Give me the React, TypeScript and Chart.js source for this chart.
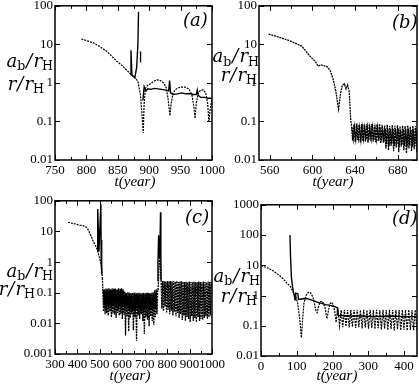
import React, { useEffect, useRef } from 'react';
import { Chart, registerables } from 'chart.js';
Chart.register(...registerables);
Chart.defaults.font.family = '"Liberation Serif", serif';
Chart.defaults.font.size = 13;

// ---------- Panel (a) ----------
const aXTicks = [750, 800, 850, 900, 950, 1000];
const aXMinor = [775, 825, 875, 925, 975];
const aYTicks = [0.01, 0.1, 1, 10, 100];
const aDotT = [792, 800, 811, 820, 832, 840, 848, 855, 860, 866, 872, 877, 882, 886, 889, 890.5, 892, 894, 897, 902, 908, 913, 918, 923, 927, 930, 933, 935, 938, 943, 950, 957, 963, 968, 971, 973, 975, 978, 982, 986, 990, 993, 995, 997, 1000];
const aDotV = [13.8, 12.5, 11, 9, 6.7, 5, 3.7, 3.0, 2.5, 2.0, 1.6, 1.4, 1.1, 0.5, 0.12, 0.05, 0.3, 0.72, 0.85, 0.95, 1.12, 1.2, 1.15, 1.0, 0.75, 0.4, 0.14, 0.3, 0.55, 0.7, 0.78, 0.78, 0.7, 0.5, 0.25, 0.12, 0.3, 0.55, 0.65, 0.66, 0.55, 0.3, 0.1, 0.2, 0.4];
const aSolT = [870, 871, 872.5, 877, 880, 882, 883, 883.5, 886, 886.2, 886.5, 890, 892, 895, 898, 903, 908, 914, 920, 926, 931, 932.5, 934, 938, 945, 952, 958, 964, 970, 975, 976.5, 978, 982, 988, 994, 1000];
const aSolV = [1.65, 7, 1.6, 1.35, 2.5, 10, 70, null, 3.5, 6.5, null, 0.35, 0.8, 0.62, 0.7, 0.68, 0.72, 0.7, 0.68, 0.65, 0.62, 1.15, 0.55, 0.5, 0.52, 0.55, 0.52, 0.53, 0.5, 0.5, 0.65, 0.48, 0.42, 0.42, 0.4, 0.4];

// ---------- Panel (b) ----------
const bXTicks = [560, 600, 640, 680];
const bXMinor = [580, 620, 660];
const bYTicks = [0.01, 0.1, 1, 10, 100];
const bDotT = [559, 570, 580, 590, 597, 603, 605.5, 607.5, 610, 614, 617, 620, 622, 624.5, 626.5, 628, 630, 631.5, 633, 634.5, 636];
const bDotV = [18.5, 15, 12, 9, 5.2, 3.5, 2.7, 2.95, 2.85, 2.6, 2.0, 1.1, 0.6, 0.21, 0.55, 0.85, 0.95, 0.7, 0.88, 0.6, 0.1];
const bBandStart = 636.5;
const bBandStep = 1.2;
const bBandV = [0.09, 0.032, 0.085, 0.03, 0.088, 0.033, 0.082, 0.029, 0.086, 0.031, 0.084, 0.03, 0.087, 0.028, 0.083, 0.032, 0.085, 0.03, 0.08, 0.029, 0.084, 0.031, 0.086, 0.027, 0.082, 0.028,
  0.078, 0.02, 0.082, 0.018, 0.076, 0.023, 0.08, 0.017, 0.077, 0.021, 0.079, 0.016, 0.075, 0.022, 0.078, 0.018, 0.076, 0.015, 0.079, 0.02, 0.074, 0.017, 0.077, 0.019, 0.075, 0.016];
const bSolBandStart = 637.1;
const bSolBandStep = 1.2;
const bSolBandV = [0.07, 0.035, 0.072, 0.034, 0.068, 0.036, 0.07, 0.033, 0.071, 0.035, 0.069, 0.034, 0.07, 0.032, 0.068, 0.035, 0.07, 0.033, 0.067, 0.034, 0.069, 0.032, 0.07, 0.031, 0.066, 0.03,
  0.064, 0.026, 0.066, 0.024, 0.063, 0.027, 0.065, 0.023, 0.064, 0.025, 0.066, 0.022, 0.062, 0.025, 0.064, 0.023, 0.063, 0.021, 0.065, 0.024, 0.062, 0.022, 0.063, 0.023, 0.062, 0.021];

// ---------- Panel (c) ----------
const cXTicks = [300, 400, 500, 600, 700, 800, 900, 1000];
const cXMinor = [350, 450, 550, 650, 750, 850, 950];
const cYTicks = [0.001, 0.01, 0.1, 1, 10, 100];
const cDotT = [358, 375, 392, 408, 425, 438, 446, 453, 461, 468, 476, 483, 490, 497, 505, 509, 511];
const cDotV = [20, 18.5, 17.5, 16, 15.5, 14, 12, 9.5, 7, 5.3, 4, 3.2, 2.3, 1.5, 0.9, 0.6, 0.3];
const cBand1Start = 513;
const cBand1Step = 3.5;
const cBand1V = [0.14, 0.025, 0.13, 0.02, 0.14, 0.022, 0.135, 0.018, 0.14, 0.024, 0.13, 0.016, 0.14, 0.021, 0.135, 0.019, 0.14, 0.015, 0.13, 0.022, 0.14, 0.018, 0.135, 0.02, 0.14, 0.014, 0.13, 0.019, 0.11, 0.004,
  0.1, 0.017, 0.105, 0.0055, 0.1, 0.015, 0.098, 0.02, 0.1, 0.006, 0.102, 0.016, 0.1, 0.0027, 0.098, 0.018, 0.1, 0.014, 0.1, 0.02, 0.097, 0.012, 0.1, 0.0045, 0.098, 0.016, 0.1, 0.013, 0.1, 0.008,
  0.098, 0.017, 0.1, 0.012, 0.105, 0.009, 0.12, 0.016, 0.13, 0.02, 0.13];
const cSolBandStart = 514.75;
const cSolBandStep = 3.5;
const cSolBandV = [0.12, 0.035, 0.125, 0.03, 0.12, 0.04, 0.13, 0.032, 0.12, 0.036, 0.125, 0.03, 0.12, 0.038, 0.13, 0.033, 0.12, 0.035, 0.125, 0.03, 0.12, 0.037, 0.13, 0.032, 0.12, 0.034, 0.11, 0.03, 0.095, 0.028,
  0.09, 0.03, 0.092, 0.026, 0.09, 0.03, 0.088, 0.027, 0.09, 0.029, 0.092, 0.025, 0.09, 0.028, 0.088, 0.03, 0.09, 0.026, 0.09, 0.029, 0.088, 0.025, 0.09, 0.027, 0.088, 0.03, 0.09, 0.026, 0.09, 0.028,
  0.09, 0.03, 0.092, 0.027, 0.095, 0.03, 0.11, 0.032, 0.12];
const cMidT = [760, 763, 766, 768, 770, 772];
const cMidV = [0.13, 0.5, 1.5, 2, 1.0, 0.3];
const cBand2Start = 773;
const cBand2Step = 3.5;
const cBand2V = [0.25, 0.03, 0.24, 0.025, 0.24, 0.035, 0.23, 0.022, 0.24, 0.028, 0.235, 0.02, 0.24, 0.026, 0.23, 0.018, 0.235, 0.024, 0.23, 0.017, 0.24, 0.022, 0.225, 0.015, 0.23, 0.02, 0.235, 0.013, 0.23, 0.018,
  0.225, 0.012, 0.23, 0.016, 0.22, 0.014, 0.23, 0.011, 0.225, 0.017, 0.22, 0.012, 0.23, 0.015, 0.225, 0.011, 0.22, 0.016, 0.23, 0.012, 0.225, 0.014, 0.22, 0.013, 0.23, 0.015, 0.225, 0.017, 0.22, 0.014,
  0.23, 0.016, 0.225, 0.018, 0.23];
const cSol1T = [488, 490.5, 496, 504.5, 506, 507.5, 509];
const cSol1V = [2.2, 54, 2.2, 78, 1.0, 5.3, 0.4];
const cSol2T = [756, 759, 762, 764, 768, 770.5, 772, 773];
const cSol2V = [0.25, 1.0, 7.5, 1.5, 3, 42, 1.5, 0.25];

// ---------- Panel (d) ----------
const dXTicks = [0, 100, 200, 300, 400];
const dXMinor = [50, 150, 250, 350];
const dYTicks = [0.01, 0.1, 1, 10, 100, 1000];
const dDotT = [0, 15, 30, 45, 60, 72, 82, 90, 96, 102, 107, 110, 113, 116, 120, 126, 132, 138, 145, 150, 154, 157, 160, 165, 170, 175, 180, 184, 187, 192, 197, 202, 206, 210, 213];
const dDotV = [9.5, 8.5, 7, 5.3, 3.8, 2.6, 2.0, 1.3, 1.0, 0.6, 0.22, 0.1, 0.04, 0.15, 0.55, 1.0, 1.28, 1.25, 0.9, 0.5, 0.3, 0.27, 0.4, 0.6, 0.66, 0.55, 0.35, 0.17, 0.25, 0.52, 0.6, 0.5, 0.3, 0.13, 0.3];
const dBandStart = 215;
const dBandStep = 4.5;
const dBandV = [0.34, 0.1, 0.33, 0.09, 0.34, 0.095, 0.33, 0.088, 0.335, 0.092, 0.33, 0.085, 0.34, 0.09, 0.33, 0.082, 0.335, 0.088, 0.33, 0.08, 0.34, 0.085, 0.33, 0.078, 0.335,
  0.083, 0.33, 0.075, 0.34, 0.08, 0.33, 0.072, 0.335, 0.078, 0.33, 0.07, 0.34, 0.076, 0.33, 0.071, 0.335, 0.074, 0.33, 0.069, 0.34, 0.073, 0.33, 0.07, 0.335, 0.075];
const dSolT = [81, 82.5, 85, 88, 91, 93, 95, 96, 97, 103, 105, 110, 120, 130, 140, 150, 160, 170, 180, 190, 200, 208, 213, 215, 216, 240, 280, 320, 360, 400, 436];
const dSolV = [100, 20, 4, 2, 1.2, 1.0, 0.72, 0.72, 1.2, 1.15, 0.75, 0.75, 0.8, 0.78, 0.72, 0.65, 0.58, 0.55, 0.5, 0.48, 0.45, 0.42, 0.4, 0.4, 0.22, 0.21, 0.21, 0.2, 0.21, 0.2, 0.2];

type Pt = { x: number; y: number | null };
const pts = (ts: number[], vs: (number | null)[]): Pt[] => ts.map((t, i) => ({ x: t, y: vs[i] }));
const band = (start: number, step: number, vs: number[]): Pt[] => vs.map((v, i) => ({ x: start + i * step, y: v }));

interface Seg { data: Pt[]; kind: 'dot' | 'dotband' | 'sol' | 'solband' }
interface PanelDef {
  L: number; T: number; R: number; B: number;
  xMin: number; xMax: number; yMin: number; yMax: number;
  xTicks: number[]; xMinor: number[]; yTicks: number[];
  segs: Seg[];
}

const panels: PanelDef[] = [
  {
    L: 55, T: 4, R: 212, B: 160, xMin: 750, xMax: 1000, yMin: 0.01, yMax: 100,
    xTicks: aXTicks, xMinor: aXMinor, yTicks: aYTicks,
    segs: [{ data: pts(aDotT, aDotV), kind: 'dot' }, { data: pts(aSolT, aSolV), kind: 'sol' }],
  },
  {
    L: 259, T: 4, R: 417, B: 160, xMin: 550, xMax: 698, yMin: 0.01, yMax: 100,
    xTicks: bXTicks, xMinor: bXMinor, yTicks: bYTicks,
    segs: [
      { data: [...pts(bDotT, bDotV), ...band(bBandStart, bBandStep, bBandV)], kind: 'dotband' },
      { data: band(bSolBandStart, bSolBandStep, bSolBandV), kind: 'dotband' },
    ],
  },
  {
    L: 55, T: 199, R: 212, B: 354, xMin: 300, xMax: 1000, yMin: 0.001, yMax: 100,
    xTicks: cXTicks, xMinor: cXMinor, yTicks: cYTicks,
    segs: [
      { data: pts(cDotT, cDotV), kind: 'dot' },
      { data: [{ x: 511, y: 0.3 }, ...band(cBand1Start, cBand1Step, cBand1V), ...pts(cMidT, cMidV), ...band(cBand2Start, cBand2Step, cBand2V)], kind: 'dotband' },
      { data: band(cSolBandStart, cSolBandStep, cSolBandV), kind: 'solband' },
      { data: pts(cSol1T, cSol1V), kind: 'sol' },
      { data: pts(cSol2T, cSol2V), kind: 'sol' },
    ],
  },
  {
    L: 261, T: 203, R: 417, B: 356, xMin: 0, xMax: 436, yMin: 0.01, yMax: 1000,
    xTicks: dXTicks, xMinor: dXMinor, yTicks: dYTicks,
    segs: [
      { data: [...pts(dDotT, dDotV), ...band(dBandStart, dBandStep, dBandV)], kind: 'dot' },
      { data: pts(dSolT, dSolV), kind: 'sol' },
    ],
  },
];

const YW = 45, PT = 8, PR = 16, XH = 22;
const tickFont = { family: '"Liberation Serif", serif', size: 13, style: 'normal' as const };

const segStyle = (k: Seg['kind']) => {
  if (k === 'dot') return { borderWidth: 1.2, borderDash: [2, 1] };
  if (k === 'dotband') return { borderWidth: 1.3, borderDash: [2, 0.8] };
  if (k === 'solband') return { borderWidth: 1.1, borderDash: [] };
  return { borderWidth: 1.4, borderDash: [] };
};

function Panel({ p }: { p: PanelDef }) {
  const ref = useRef<HTMLCanvasElement | null>(null);
  const W = p.R - p.L + YW + PR;
  const H = p.B - p.T + PT + XH;
  useEffect(() => {
    const cv = ref.current;
    if (!cv) return;
    const frame = {
      id: 'frame',
      afterDraw(chart: any) {
        const { ctx, chartArea, scales } = chart;
        const { left, right, top, bottom } = chartArea;
        ctx.save();
        ctx.strokeStyle = '#000';
        ctx.lineWidth = 1;
        ctx.beginPath();
        const xt = (v: number, len: number) => {
          const px = Math.round(scales.x.getPixelForValue(v)) + 0.5;
          ctx.moveTo(px, bottom); ctx.lineTo(px, bottom - len);
          ctx.moveTo(px, top); ctx.lineTo(px, top + len);
        };
        p.xTicks.forEach((v) => xt(v, 5));
        p.xMinor.forEach((v) => xt(v, 3));
        p.yTicks.forEach((v) => {
          const py = Math.round(scales.y.getPixelForValue(v)) + 0.5;
          ctx.moveTo(left, py); ctx.lineTo(left + 5, py);
          ctx.moveTo(right, py); ctx.lineTo(right - 5, py);
        });
        ctx.stroke();
        ctx.lineWidth = 1.5;
        ctx.strokeRect(left, top, right - left, bottom - top);
        ctx.restore();
      },
    };
    const datasets: any[] = p.segs.map((s) => ({
      data: s.data, borderColor: '#000', pointRadius: 0, spanGaps: false, fill: false, ...segStyle(s.kind),
    }));
    const fixTicks = (vals: number[]) => (s: any) => { s.ticks = vals.map((v) => ({ value: v, major: false })); };
    const fixLabels = (s: any) => { s.ticks.forEach((t: any) => { t.label = String(t.value); }); };
    const chart = new Chart(cv, {
      type: 'line',
      data: { datasets },
      options: {
        animation: false,
        responsive: false,
        devicePixelRatio: 1,
        layout: { padding: { left: 0, right: PR, top: PT, bottom: 0 } },
        plugins: { legend: { display: false }, tooltip: { enabled: false } },
        elements: { point: { radius: 0 }, line: { tension: 0 } },
        scales: {
          x: {
            type: 'linear', min: p.xMin, max: p.xMax,
            grid: { display: false, drawTicks: false }, border: { display: false },
            afterBuildTicks: fixTicks(p.xTicks),
            afterTickToLabelConversion: fixLabels,
            afterFit: (s: any) => { s.height = XH; },
            ticks: { font: tickFont, color: '#000', padding: 3, maxRotation: 0, autoSkip: false, callback: (v: any) => String(v) },
          },
          y: {
            type: 'logarithmic', min: p.yMin, max: p.yMax,
            grid: { display: false, drawTicks: false }, border: { display: false },
            afterBuildTicks: fixTicks(p.yTicks),
            afterTickToLabelConversion: fixLabels,
            afterFit: (s: any) => { s.width = YW; },
            ticks: { font: tickFont, color: '#000', padding: 2, autoSkip: false, maxTicksLimit: 20, major: { enabled: false }, callback: (v: any) => String(v) },
          },
        },
      } as any,
      plugins: [frame],
    });
    let alive = true;
    const fonts = (document as any).fonts;
    if (fonts && fonts.load) {
      Promise.all([fonts.load('13px "Liberation Serif"'), fonts.ready]).then(() => { if (alive) chart.update(); }, () => {});
    }
    return () => { alive = false; chart.destroy(); };
  }, []);
  return (
    <canvas ref={ref} width={W} height={H}
      style={{ position: 'absolute', left: p.L - YW, top: p.T - PT, width: W, height: H }} />
  );
}

const labFont = 'italic 18px "DejaVu Serif"';
const sub: React.CSSProperties = { fontStyle: 'normal', fontSize: '0.7em', position: 'relative', top: '0.28em' };
const slash: React.CSSProperties = { margin: '0 1px' };

function YLab({ right, cy, kind }: { right: number; cy: number; kind: 'a' | 'r' }) {
  return (
    <div style={{ position: 'absolute', right: 419 - right, top: cy - 10.5, font: labFont, lineHeight: '1', whiteSpace: 'nowrap', color: '#000' }}>
      {kind === 'a' ? <>a<span style={sub}>b</span></> : 'r'}<span style={slash}>/</span>r<span style={sub}>H</span>
    </div>
  );
}

function XLab({ cx, cy }: { cx: number; cy: number }) {
  return (
    <div style={{ position: 'absolute', left: cx, top: cy - 9, transform: 'translateX(-50%)', font: 'italic 15px "Liberation Serif"', lineHeight: '1', whiteSpace: 'nowrap', color: '#000' }}>
      t(year)
    </div>
  );
}

function PLab({ x, y, t }: { x: number; y: number; t: string }) {
  return (
    <div style={{ position: 'absolute', left: x, top: y, font: 'italic 18px "DejaVu Serif"', lineHeight: '1', whiteSpace: 'nowrap', color: '#000' }}>
      ({t})
    </div>
  );
}

export default function App() {
  return (
    <div style={{ position: 'absolute', left: 0, top: 0, width: 419, height: 385, overflow: 'hidden', background: '#fff' }}>
      {panels.map((p, i) => <Panel key={i} p={p} />)}
      <YLab right={53} cy={62} kind="a" />
      <YLab right={44} cy={85} kind="r" />
      <YLab right={259} cy={57.5} kind="a" />
      <YLab right={257} cy={76} kind="r" />
      <YLab right={53} cy={272} kind="a" />
      <YLab right={35} cy={290} kind="r" />
      <YLab right={260} cy={277} kind="a" />
      <YLab right={257} cy={297} kind="r" />
      <XLab cx={135} cy={183} />
      <XLab cx={333} cy={183} />
      <XLab cx={130} cy={377} />
      <XLab cx={337} cy={377} />
      <PLab x={183} y={11} t="a" />
      <PLab x={392} y={13} t="b" />
      <PLab x={185} y={208} t="c" />
      <PLab x={392} y={209} t="d" />
    </div>
  );
}
